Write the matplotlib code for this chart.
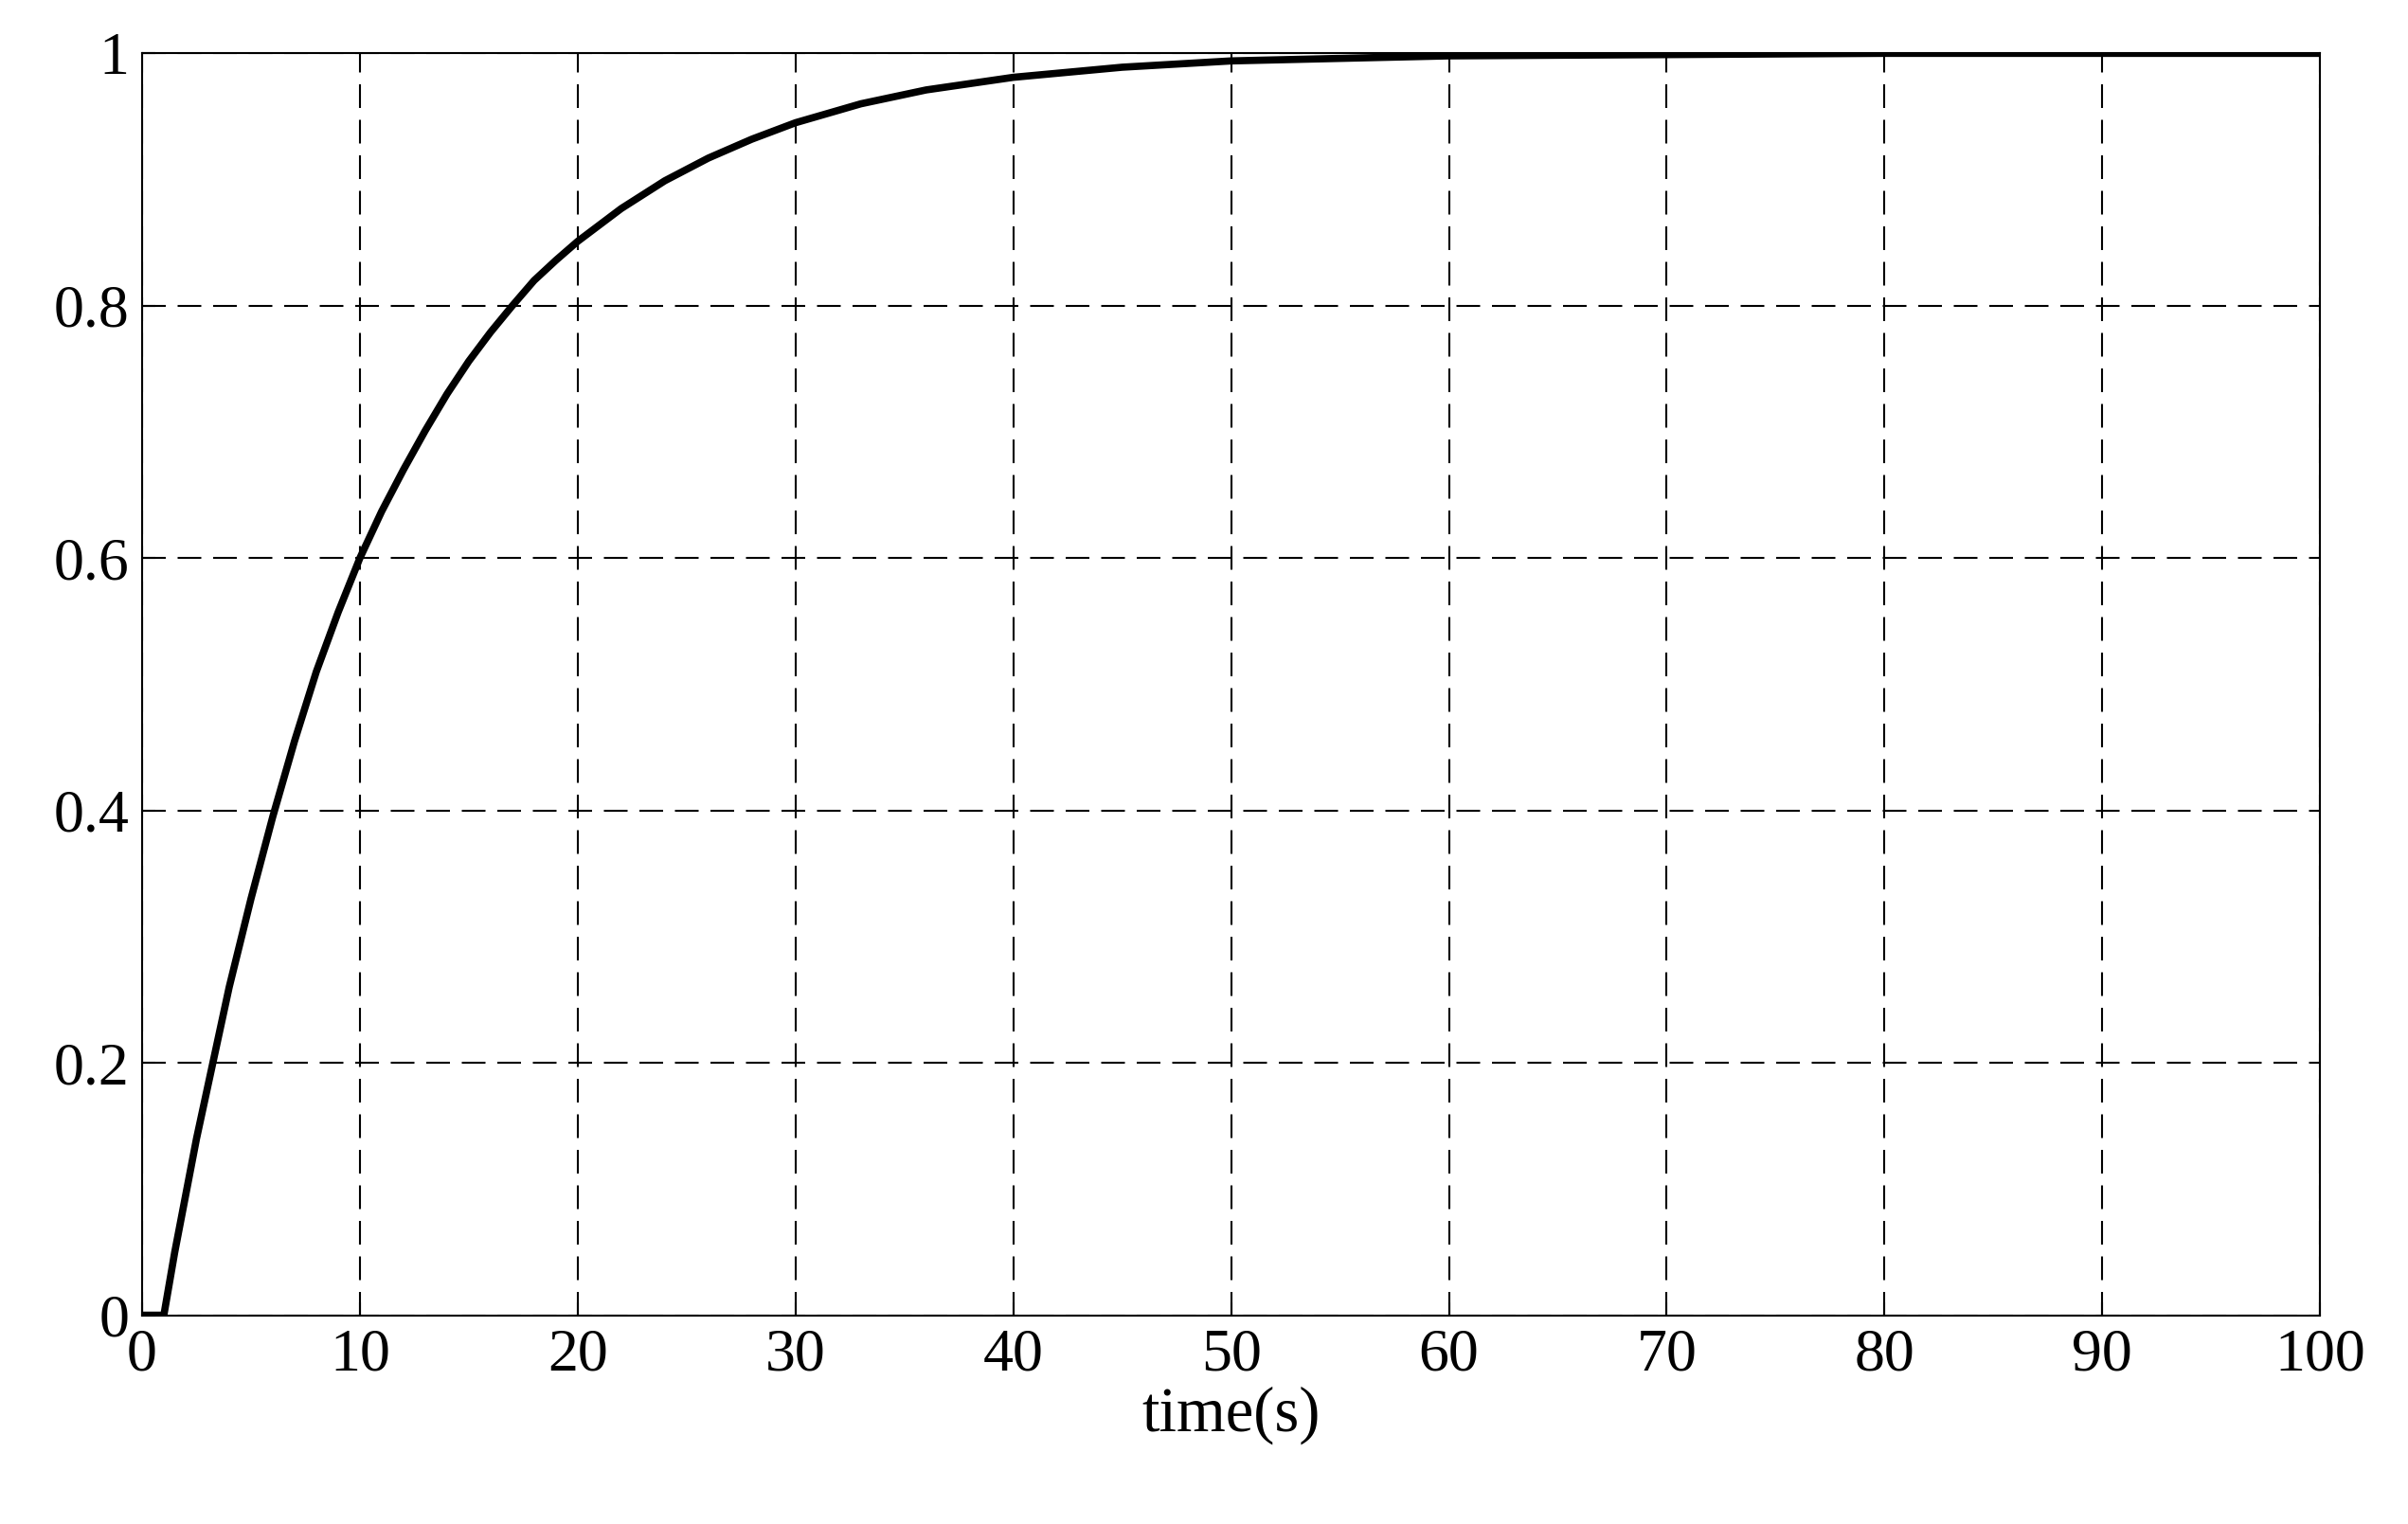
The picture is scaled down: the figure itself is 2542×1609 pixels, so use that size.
import matplotlib
matplotlib.use("Agg")
import matplotlib.pyplot as plt

t = [0, 1, 1.5, 2, 2.5, 3, 3.5, 4, 5, 6, 7, 8, 9, 10, 11, 12, 13, 14, 15, 16, 17,
     18, 19, 20, 22, 24, 26, 28, 30, 33, 36, 40, 45, 50, 55, 60, 70, 80, 90, 100]
y = [0, 0, 0.05, 0.095, 0.14, 0.18, 0.22, 0.26, 0.33, 0.395, 0.455, 0.51, 0.557,
     0.6, 0.637, 0.67, 0.701, 0.73, 0.756, 0.779, 0.8, 0.82, 0.836, 0.851, 0.877,
     0.899, 0.917, 0.932, 0.945, 0.96, 0.971, 0.981, 0.989, 0.994, 0.996, 0.998,
     0.999, 1.0, 1.0, 1.0]
xticks = list(range(0, 101, 10))
yticks = [0, 0.2, 0.4, 0.6, 0.8, 1]
ylabels = ["0", "0.2", "0.4", "0.6", "0.8", "1"]

plt.rcParams['font.family'] = ['Liberation Serif', 'DejaVu Serif']
fig = plt.figure(figsize=(25.42, 16.09), dpi=100)
ax = fig.add_axes([0.059, 0.137, 0.9045, 0.828])
ax.plot(t, y, color='black', lw=5.5, solid_joinstyle='round')
ax.set_xlim(0, 100)
ax.set_ylim(0, 1)
ax.set_xticks(xticks)
ax.set_yticks(yticks)
ax.set_yticklabels(ylabels)
ax.grid(True, color='black', ls=(0, (12, 6)), lw=1.5)
ax.tick_params(labelsize=46, direction='in', length=10, width=1.5, pad=10)
for s in ax.spines.values():
    s.set_linewidth(1.5)
ax.set_xlabel('time(s)', fontsize=48, labelpad=2)
fig.savefig('out.png', dpi=100, facecolor='white')
